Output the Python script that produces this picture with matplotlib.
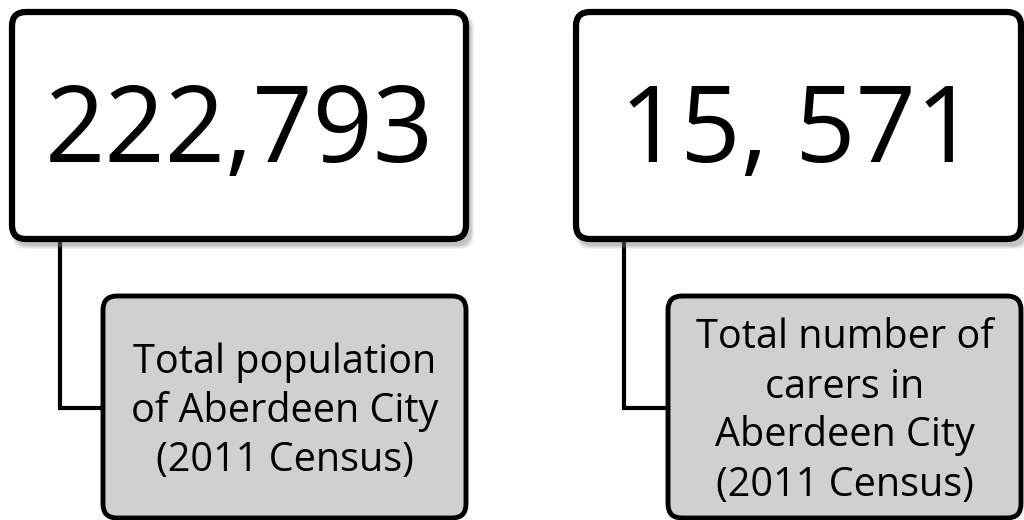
import matplotlib
matplotlib.use('Agg')
import matplotlib.pyplot as plt
from matplotlib.patches import FancyBboxPatch

plt.rcParams['font.family'] = ['Open Sans', 'DejaVu Sans']

# figures shown in the big boxes and the captions under them
values = ['222,793', '15, 571']
captions = ['Total population\nof Aberdeen City\n(2011 Census)',
            'Total number of\ncarers in\nAberdeen City\n(2011 Census)']

# layout in pixels (x0, y0, x1, y1)
top_boxes = [(12, 12, 466, 239), (576, 12, 1021, 239)]
low_boxes = [(103, 296, 466, 518), (668, 296, 1021, 518)]
stems = [60, 624]
elbow_y = 408

fig = plt.figure(figsize=(10.24, 5.2), dpi=100)
ax = fig.add_axes([0, 0, 1, 1])
ax.set_xlim(0, 1024)
ax.set_ylim(520, 0)
ax.axis('off')


def rbox(x0, y0, x1, y1, rad, **kw):
    return FancyBboxPatch((x0 + rad, y0 + rad), x1 - x0 - 2 * rad, y1 - y0 - 2 * rad,
                          boxstyle='round,pad=%d,rounding_size=%d' % (rad, rad), **kw)


for i in range(2):
    x0, y0, x1, y1 = top_boxes[i]
    lx0, ly0, lx1, ly1 = low_boxes[i]

    # connector
    ax.plot([stems[i], stems[i], lx0], [y1, elbow_y, elbow_y], color='black',
            lw=3, solid_joinstyle='miter', zorder=1)

    # soft shadow under the big box
    for k, a in enumerate([0.10, 0.12, 0.15, 0.2]):
        s = 4 - k
        ax.add_patch(rbox(x0 + 4 - s, y0 + 6 - s, x1 + 4 + s, y1 + 6 + s, 14,
                          fc='#7f7f7f', ec='none', alpha=a, zorder=2))
    ax.add_patch(rbox(x0, y0, x1, y1, 14, fc='white', ec='black', lw=4.5, zorder=3))
    ax.text((x0 + x1) / 2, (y0 + y1) / 2 + 36.5, values[i], fontsize=76,
            ha='center', va='baseline', zorder=4)

    ax.add_patch(rbox(lx0, ly0, lx1, ly1, 14, fc='#d0d0d0', ec='black', lw=3.5, zorder=3))
    lines = captions[i].split('\n')
    step = 49
    cy = (ly0 + ly1) / 2
    for j, line in enumerate(lines):
        y = cy + (j - (len(lines) - 1) / 2) * step + 15
        ax.text((lx0 + lx1) / 2, y, line, fontsize=28.5, ha='center', va='baseline', zorder=4)

fig.savefig('out.png', dpi=100)
